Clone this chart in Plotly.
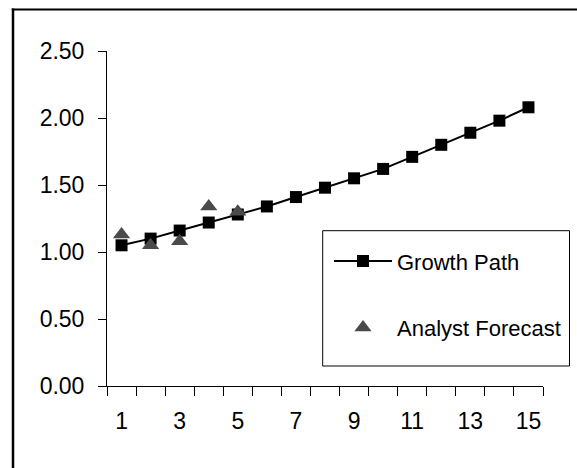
import plotly.graph_objects as go

# ---- data ----
periods = list(range(1, 16))
growth_path = [1.05, 1.10, 1.16, 1.22, 1.28, 1.34, 1.41, 1.48, 1.55, 1.62, 1.71, 1.80, 1.89, 1.98, 2.08]
forecast_periods = [1, 2, 3, 4, 5]
analyst_forecast = [1.13, 1.05, 1.08, 1.34, 1.30]
x_tick_values = [1, 3, 5, 7, 9, 11, 13, 15]
x_tick_labels = ["1", "3", "5", "7", "9", "11", "13", "15"]
y_tick_values = [0, 0.5, 1.0, 1.5, 2.0, 2.5]
y_tick_labels = ["0.00", "0.50", "1.00", "1.50", "2.00", "2.50"]

# figure fills the whole 577x468 window (page body margin removed below)
W, H = 577, 468
L, R, T, B = 107, 34, 51, 82
PW, PH = W - L - R, H - T - B


def px_x(px):
    return (px - L) / PW


def px_y(py):
    return (H - B - py) / PH


def cx(px):
    return px / W


def cy(py):
    return 1 - py / H


FONT = "Liberation Sans, Arial, sans-serif"

fig = go.Figure()
fig.add_trace(go.Scatter(
    x=periods, y=growth_path, name="Growth Path", mode="lines+markers",
    line=dict(color="black", width=2),
    marker=dict(symbol="square", size=12, color="black"),
    legendgroup="g1",
))
fig.add_trace(go.Scatter(
    x=forecast_periods, y=analyst_forecast, name="Analyst Forecast", mode="markers",
    marker=dict(symbol="triangle-up", size=15, color="#4a4a4a"),
    legendgroup="g2",
))

fig.update_layout(
    template="none",
    width=W, height=H,
    margin=dict(l=L, r=R, t=T, b=B, pad=0, autoexpand=False),
    paper_bgcolor="white", plot_bgcolor="white",
    font=dict(family=FONT, size=23, color="black"),
    showlegend=True,
    legend=dict(
        xref="container", yref="container",
        x=cx(329), y=cy(230.7 + 9.5), xanchor="left", yanchor="top",
        bgcolor="rgba(0,0,0,0)", borderwidth=0,
        font=dict(family=FONT, size=22, color="black"),
        itemwidth=58, tracegroupgap=35,
    ),
    xaxis=dict(
        range=[0.5, 15.5], tickmode="array", tickvals=x_tick_values, ticktext=x_tick_labels,
        ticks="", showline=True, linecolor="black", linewidth=1, showgrid=False, zeroline=False,
        ticklabelstandoff=14, automargin=False,
        minor=dict(ticks="outside", ticklen=9, tickcolor="black", tickwidth=1, tick0=0.5, dtick=1,
                   showgrid=False),
        fixedrange=True,
    ),
    yaxis=dict(
        range=[0, 2.5], tickmode="array", tickvals=y_tick_values, ticktext=y_tick_labels,
        ticks="outside", ticklen=8, tickcolor="black", tickwidth=1,
        showline=True, linecolor="black", linewidth=1, showgrid=False, zeroline=False,
        ticklabelstandoff=9, automargin=False,
        fixedrange=True,
    ),
    shapes=[
        # outer frame (left and top edges visible)
        dict(type="line", xref="paper", yref="paper", x0=px_x(13), x1=px_x(13), y0=px_y(8.5), y1=px_y(480),
             line=dict(color="black", width=2.5)),
        dict(type="line", xref="paper", yref="paper", x0=px_x(11.8), x1=px_x(600), y0=px_y(9.5), y1=px_y(9.5),
             line=dict(color="black", width=2)),
        # legend box
        dict(type="rect", xref="paper", yref="paper", x0=px_x(322.7), x1=px_x(569.5), y0=px_y(230.7), y1=px_y(366),
             line=dict(color="black", width=1), fillcolor="rgba(0,0,0,0)"),
    ],
)

fig.write_html("out.html", config={"displayModeBar": False},
               post_script="document.body.style.margin='0px';")
